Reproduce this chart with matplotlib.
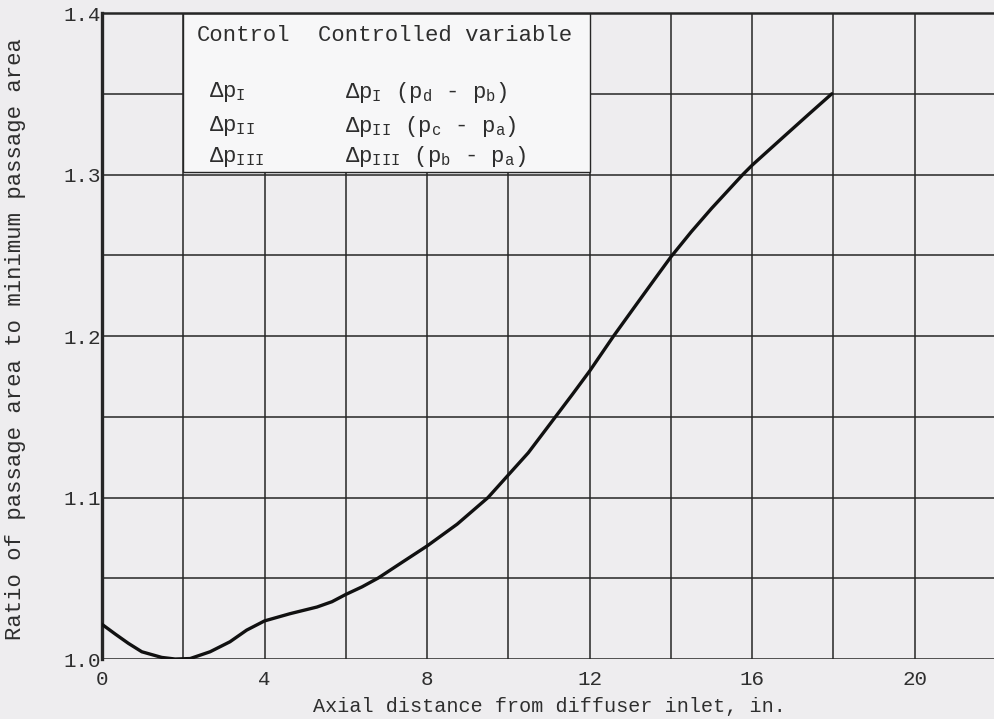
import matplotlib
matplotlib.use("Agg")
import matplotlib.pyplot as plt
from matplotlib.patches import Rectangle

plt.rcParams['font.family'] = ['Liberation Mono', 'DejaVu Sans Mono']
plt.rcParams['mathtext.fontset'] = 'custom'
plt.rcParams['mathtext.rm'] = 'Liberation Mono'
plt.rcParams['mathtext.it'] = 'Liberation Mono'
plt.rcParams['mathtext.bf'] = 'Liberation Mono'

# Data
axial_in = [0.0, 0.33, 0.65, 0.98, 1.47, 1.8, 2.17, 2.66, 3.15, 3.56, 4.0,
            4.63, 5.29, 5.66, 6.0, 6.4, 6.8, 7.38, 8.0, 8.74, 9.5, 10.0,
            10.49, 11.16, 11.58, 12.0, 12.59, 13.18, 13.6, 14.0, 14.5, 15.0,
            15.77, 16.0, 16.78, 17.4, 17.96]
area_ratio = [1.0215, 1.0154, 1.0097, 1.0045, 1.0010, 1.0000, 1.0003, 1.0045,
              1.0107, 1.0179, 1.0236, 1.0281, 1.0322, 1.0355, 1.0400, 1.0447,
              1.0502, 1.0598, 1.0700, 1.0835, 1.1000, 1.1140, 1.1277, 1.1500,
              1.1640, 1.1783, 1.2000, 1.2206, 1.2352, 1.2490, 1.2645, 1.2790,
              1.3000, 1.3058, 1.3235, 1.3375, 1.3500]

x_major = [0, 4, 8, 12, 16, 20]
x_minor = [2, 6, 10, 14, 18, 22]
y_major = [1.0, 1.1, 1.2, 1.3, 1.4]
y_minor = [1.05, 1.15, 1.25, 1.35]

legend_header = ["Control", "Controlled variable"]
legend_control = [r"Δp$_{\rm I}$", r"Δp$_{\rm II}$", r"Δp$_{\rm III}$"]
legend_variable = [r"Δp$_{\rm I}$ (p$_{\rm d}$ - p$_{\rm b}$)",
                   r"Δp$_{\rm II}$ (p$_{\rm c}$ - p$_{\rm a}$)",
                   r"Δp$_{\rm III}$ (p$_{\rm b}$ - p$_{\rm a}$)"]

bg = '#eeedef'
ink = '#262626'
txt = '#2e2e2e'

fig = plt.figure(figsize=(9.95, 7.19), dpi=100, facecolor=bg)
ax = fig.add_axes([0.1025, 0.0834, 0.8985, 0.8985])
ax.set_facecolor(bg)

ax.set_xlim(0, 22)
ax.set_ylim(1.0, 1.4)
ax.set_xticks(x_major)
ax.set_xticks(x_minor, minor=True)
ax.set_yticks(y_major)
ax.set_yticks(y_minor, minor=True)
ax.set_xticklabels([str(v) for v in x_major])
ax.set_yticklabels([f"{v:.1f}" for v in y_major])
ax.tick_params(which='both', length=0, colors=txt, labelsize=15)
ax.tick_params(axis='x', pad=8)
ax.tick_params(axis='y', pad=1)

ax.grid(True, which='both', color=ink, linewidth=1.1, zorder=1)
ax.set_axisbelow(True)

for s in ['right', 'bottom']:
    ax.spines[s].set_visible(False)
ax.spines['left'].set_linewidth(2.4)
ax.spines['left'].set_color(ink)
ax.spines['top'].set_linewidth(1.8)
ax.spines['top'].set_color(ink)

# legend box
box = Rectangle((2, 1.3015), 10, 0.0985, facecolor='#f7f7f8', edgecolor=ink,
                linewidth=1.0, zorder=2)
ax.add_patch(box)

ax.plot(axial_in, area_ratio, color='#111111', linewidth=2.4, zorder=3,
        solid_capstyle='round', solid_joinstyle='round')

fs = 16
ax.text(2.34, 1.386, legend_header[0], fontsize=fs, color=txt, va='center', zorder=4)
ax.text(5.32, 1.386, legend_header[1], fontsize=fs, color=txt, va='center', zorder=4)
row_y = [1.351, 1.330, 1.311]
for yv, c, v in zip(row_y, legend_control, legend_variable):
    ax.text(2.64, yv, c, fontsize=fs, color=txt, va='center', zorder=4)
    ax.text(5.98, yv, v, fontsize=fs, color=txt, va='center', zorder=4)

ax.set_xlabel("Axial distance from diffuser inlet, in.", fontsize=14.5,
              color=txt, labelpad=6)
ax.set_ylabel("Ratio of passage area to minimum passage area", fontsize=16,
              color=txt)
ax.yaxis.set_label_coords(-0.085, 0.495)

fig.savefig("out.png", dpi=100, facecolor=bg)
